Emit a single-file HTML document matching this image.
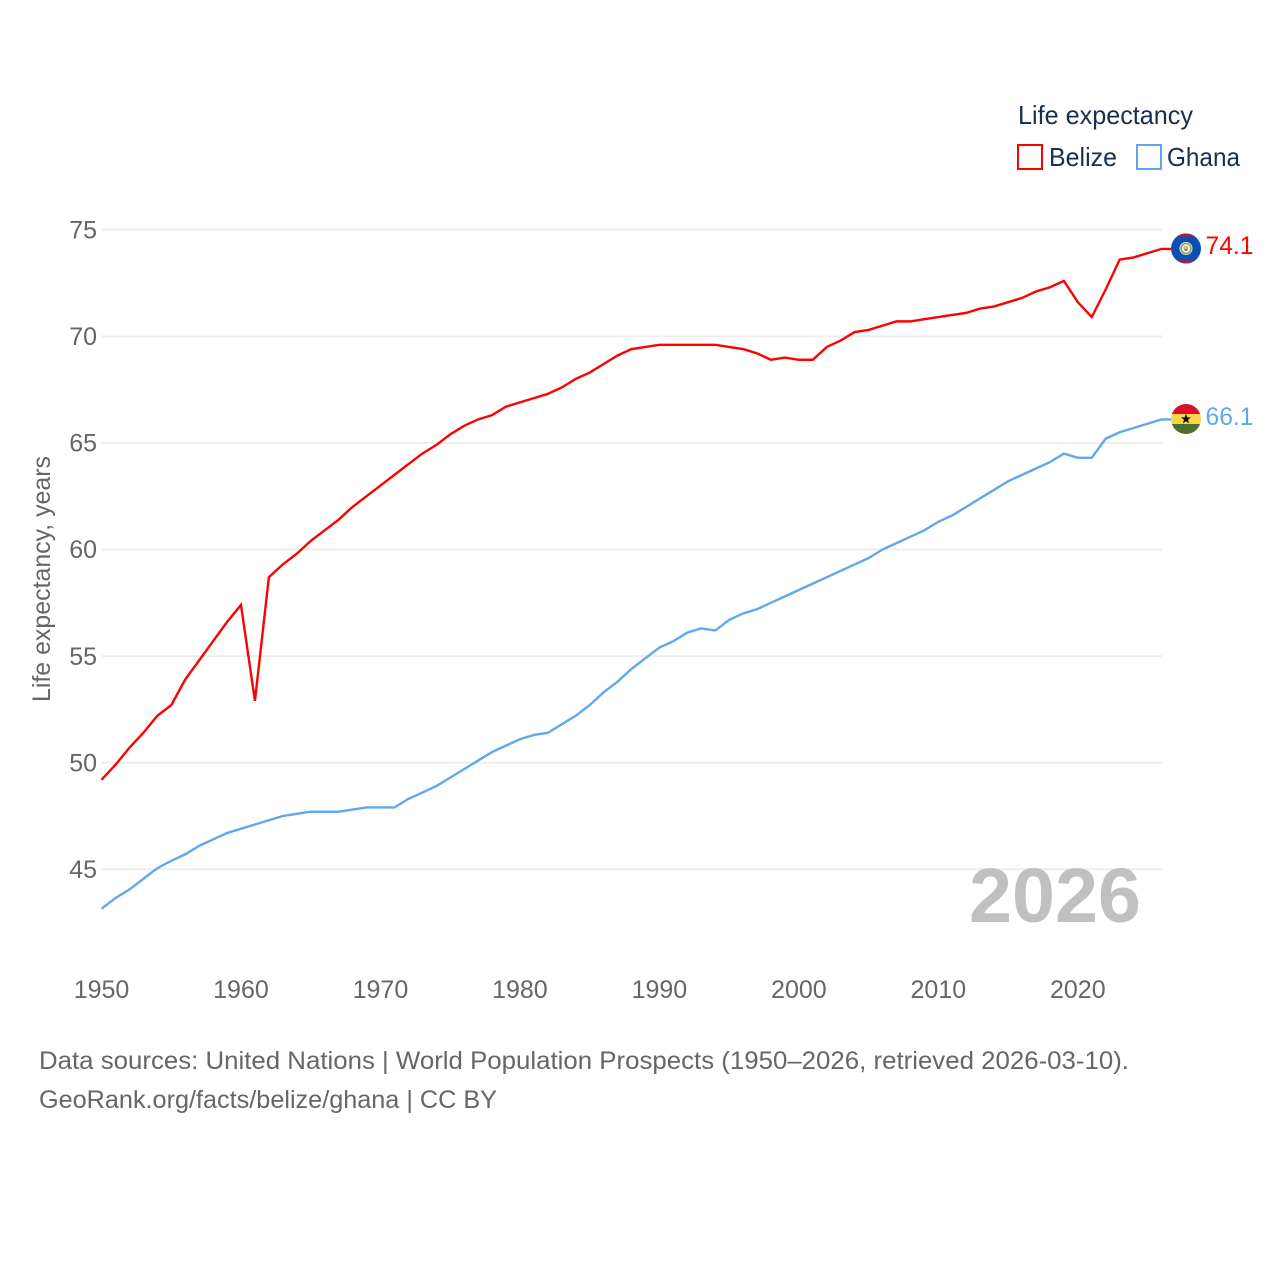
<!DOCTYPE html>
<html lang="en">
<head>
<meta charset="utf-8">
<title>Life expectancy: Belize and Ghana</title>
<style>
html,body{margin:0;padding:0;background:#fff}
svg{display:block}
text{font-family:"Liberation Sans",sans-serif}
</style>
</head>
<body>
<svg id="chart" xmlns="http://www.w3.org/2000/svg" width="1280" height="1280" viewBox="0 0 1280 1280">
  <defs>
    <clipPath id="clip-belize"><circle cx="1186" cy="248.5" r="15"/></clipPath>
    <clipPath id="clip-ghana"><circle cx="1186" cy="419" r="15"/></clipPath>
  </defs>
  <rect x="0" y="0" width="1280" height="1280" fill="#fff"/>
  <g id="grid"></g>
  <g id="y-ticks"></g>
  <g id="x-ticks"></g>
  <text transform="translate(50,702) rotate(-90)" font-size="25" fill="#666" textLength="246" lengthAdjust="spacingAndGlyphs">Life expectancy, years</text>
  <text x="969" y="922" font-size="77" font-weight="bold" fill="#bdbdbd" fill-opacity="0.95" textLength="172" lengthAdjust="spacingAndGlyphs">2026</text>
  <g id="series"></g>

  <g>
    <text x="1018" y="124" font-size="26" fill="#18304f" textLength="175" lengthAdjust="spacingAndGlyphs">Life expectancy</text>
    <rect x="1018" y="145" width="24" height="24" fill="none" stroke="#ff0000" stroke-width="2"/>
    <text x="1049" y="166" font-size="26" fill="#18304f" textLength="68" lengthAdjust="spacingAndGlyphs">Belize</text>
    <rect x="1137" y="145" width="24" height="24" fill="none" stroke="#60a8ee" stroke-width="2"/>
    <text x="1167" y="166" font-size="26" fill="#18304f" textLength="73" lengthAdjust="spacingAndGlyphs">Ghana</text>
  </g>

  <g clip-path="url(#clip-belize)">
    <rect x="1171" y="233.5" width="30" height="30" fill="#0b4fb3"/>
    <rect x="1171" y="233.5" width="30" height="3" fill="#ad1a3c"/>
    <rect x="1171" y="260.5" width="30" height="3" fill="#ad1a3c"/>
    <circle cx="1186" cy="248.5" r="6.5" fill="#f4f4ea"/>
    <circle cx="1186" cy="248.5" r="5" fill="none" stroke="#8aa35a" stroke-width="1.5"/>
    <circle cx="1186" cy="248" r="2.4" fill="#e8b85a"/>
    <rect x="1184.5" y="249" width="3" height="1.6" fill="#3d6bb0"/>
  </g>
  <g clip-path="url(#clip-ghana)">
    <rect x="1171" y="404" width="30" height="10" fill="#d9112e"/>
    <rect x="1171" y="414" width="30" height="10" fill="#fbd44a"/>
    <rect x="1171" y="424" width="30" height="10" fill="#4e6f2c"/>
    <polygon points="1186,413.8 1187.3,417.4 1191,417.4 1188,419.7 1189.1,423.4 1186,421.2 1182.9,423.4 1184,419.7 1181,417.4 1184.7,417.4" fill="#111"/>
  </g>
  <text id="label-belize" x="1205.5" y="254" font-size="25" fill="#ff0000" textLength="48" lengthAdjust="spacingAndGlyphs"></text>
  <text id="label-ghana" x="1205.5" y="425" font-size="25" fill="#60a8ee" textLength="48" lengthAdjust="spacingAndGlyphs"></text>

  <text x="39" y="1069" font-size="25" fill="#666" textLength="1090" lengthAdjust="spacingAndGlyphs">Data sources: United Nations | World Population Prospects (1950–2026, retrieved 2026-03-10).</text>
  <text x="39" y="1108" font-size="25" fill="#666" textLength="458" lengthAdjust="spacingAndGlyphs">GeoRank.org/facts/belize/ghana | CC BY</text>
</svg>
<script>
var startYear = 1950;
var belizeValues = [49.2,49.9,50.7,51.4,52.2,52.7,53.9,54.8,55.7,56.6,57.4,52.9,58.7,59.3,59.8,60.4,60.9,61.4,62.0,62.5,63.0,63.5,64.0,64.5,64.9,65.4,65.8,66.1,66.3,66.7,66.9,67.1,67.3,67.6,68.0,68.3,68.7,69.1,69.4,69.5,69.6,69.6,69.6,69.6,69.6,69.5,69.4,69.2,68.9,69.0,68.9,68.9,69.5,69.8,70.2,70.3,70.5,70.7,70.7,70.8,70.9,71.0,71.1,71.3,71.4,71.6,71.8,72.1,72.3,72.6,71.6,70.9,72.2,73.6,73.7,73.9,74.1];
var ghanaValues = [43.15,43.65,44.05,44.55,45.05,45.4,45.7,46.1,46.4,46.7,46.9,47.1,47.3,47.5,47.6,47.7,47.7,47.7,47.8,47.9,47.9,47.9,48.3,48.6,48.9,49.3,49.7,50.1,50.5,50.8,51.1,51.3,51.4,51.8,52.2,52.7,53.3,53.8,54.4,54.9,55.4,55.7,56.1,56.3,56.2,56.7,57.0,57.2,57.5,57.8,58.1,58.4,58.7,59.0,59.3,59.6,60.0,60.3,60.6,60.9,61.3,61.6,62.0,62.4,62.8,63.2,63.5,63.8,64.1,64.5,64.3,64.3,65.2,65.5,65.7,65.9,66.1];
var yTickValues = [45,50,55,60,65,70,75];
var xTickValues = [1950,1960,1970,1980,1990,2000,2010,2020];

var NS = 'http://www.w3.org/2000/svg';
function xScale(year){ return 101.5 + (year - 1950) * (1060 / 76); }
function yScale(v){ return 869.3 - (v - 45) * 21.32; }
function make(tag, parent){
  var el = document.createElementNS(NS, tag);
  parent.appendChild(el);
  return el;
}

var grid = document.getElementById('grid');
var yTicks = document.getElementById('y-ticks');
yTickValues.forEach(function(v){
  var line = make('line', grid);
  
  
  line.setAttribute('x1', 102);
  line.setAttribute('x2', 1162);
  line.setAttribute('y1', yScale(v));
  line.setAttribute('y2', yScale(v));
  line.setAttribute('stroke', '#eeeeee');
  line.setAttribute('stroke-width', 2);
  var t = make('text', yTicks);
  
  
  t.setAttribute('x', 97);
  t.setAttribute('y', yScale(v) + 8.7);
  t.setAttribute('text-anchor', 'end');
  t.setAttribute('font-size', 25);
  t.setAttribute('fill', '#666');
  t.textContent = v;
});

var xTicks = document.getElementById('x-ticks');
xTickValues.forEach(function(y){
  var t = make('text', xTicks);
  
  
  t.setAttribute('x', xScale(y));
  t.setAttribute('y', 998);
  t.setAttribute('text-anchor', 'middle');
  t.setAttribute('font-size', 25);
  t.setAttribute('fill', '#666');
  t.textContent = y;
});

var seriesGroup = document.getElementById('series');
function drawSeries(values, color){
  var pts = values.map(function(v, i){
    return xScale(startYear + i).toFixed(2) + ',' + yScale(v).toFixed(2);
  });
  var last = values[values.length - 1];
  pts.push('1171,' + yScale(last).toFixed(2));
  var p = make('polyline', seriesGroup);
  
  p.setAttribute('points', pts.join(' '));
  p.setAttribute('fill', 'none');
  p.setAttribute('stroke', color);
  p.setAttribute('stroke-width', 2.4);
  p.setAttribute('stroke-linejoin', 'miter');
  return p;
}
var belizeLine = drawSeries(belizeValues, '#ff0000');

var ghanaLine = drawSeries(ghanaValues, '#60a8ee');


document.getElementById('label-belize').textContent = belizeValues[belizeValues.length - 1].toFixed(1);
document.getElementById('label-ghana').textContent = ghanaValues[ghanaValues.length - 1].toFixed(1);
</script>
</body>
</html>
